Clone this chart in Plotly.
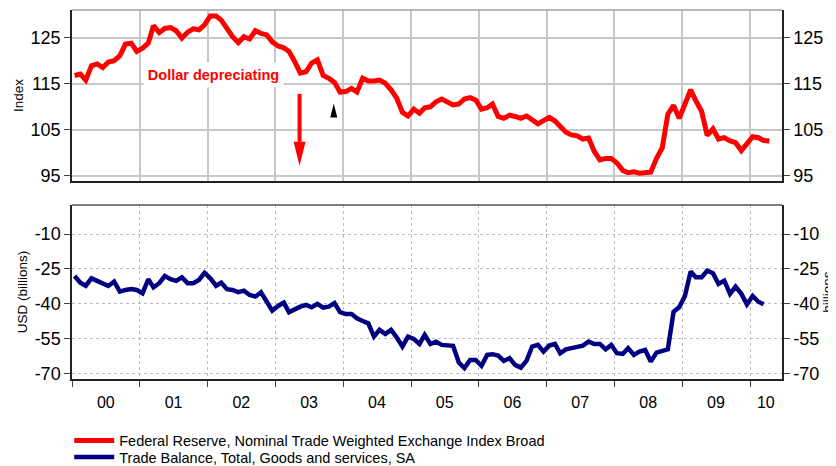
import pandas as pd
import plotly.graph_objects as go

# ---------------- data ----------------
year_labels = ["00", "01", "02", "03", "04", "05", "06", "07", "08", "09", "10"]

index_name = "Federal Reserve, Nominal Trade Weighted Exchange Index Broad"
index_values = [
    116.8, 117.1, 115.8, 118.9, 119.3, 118.5, 119.7, 120.0, 121.1, 123.6, 123.8, 122.0,  # 2000
    122.7, 123.8, 127.6, 126.1, 127.0, 127.2, 126.5, 124.9, 126.2, 126.9, 126.7, 127.8,  # 2001
    129.7, 129.7, 128.8, 127.0, 125.2, 123.9, 125.2, 124.7, 126.5, 125.9, 125.6, 124.1,  # 2002
    123.2, 122.8, 122.0, 119.8, 117.3, 117.6, 119.5, 120.2, 116.8, 116.2, 115.3, 113.2,  # 2003
    113.3, 114.0, 113.2, 116.2, 115.6, 115.6, 115.8, 115.1, 113.7, 111.9, 108.8, 108.0,  # 2004
    109.5, 108.6, 109.8, 110.0, 111.1, 111.7, 111.1, 110.4, 110.6, 111.7, 112.0, 111.5,  # 2005
    109.5, 109.8, 110.6, 107.9, 107.5, 108.2, 107.9, 107.5, 108.0, 107.1, 106.3, 107.0,  # 2006
    107.7, 106.9, 105.9, 104.5, 103.9, 103.7, 103.0, 103.2, 100.3, 98.5, 98.8, 98.8,     # 2007
    97.8, 96.2, 95.7, 95.9, 95.6, 95.7, 95.8, 98.8, 101.1, 108.4, 110.3, 107.5,          # 2008
    110.6, 113.7, 111.3, 109.0, 103.8, 105.2, 103.0, 103.3, 102.6, 102.2, 100.5, 102.2,  # 2009
    103.5, 103.3, 102.7, 102.6,                                                          # 2010
]

trade_name = "Trade Balance, Total, Goods and services, SA"
trade_values = [
    -28.1, -31.0, -32.3, -29.1, -30.2, -31.2, -32.4, -30.5, -34.8, -34.1, -33.7, -34.1,  # 2000
    -35.5, -29.5, -33.0, -31.2, -28.1, -29.5, -30.2, -28.7, -31.2, -31.2, -29.8, -26.7,  # 2001
    -29.1, -32.3, -31.0, -33.8, -34.1, -35.1, -34.4, -36.3, -37.0, -35.1, -39.2, -43.0,  # 2002
    -41.0, -39.6, -43.7, -42.3, -41.3, -40.6, -41.6, -40.1, -41.7, -41.3, -39.8, -43.7,  # 2003
    -44.5, -44.5, -46.3, -47.5, -48.5, -54.2, -51.3, -53.1, -51.3, -54.5, -58.5, -54.2,  # 2004
    -55.2, -57.4, -53.5, -57.4, -56.4, -57.8, -57.8, -58.2, -65.4, -67.8, -64.3, -64.3,  # 2005
    -66.8, -62.1, -61.8, -62.4, -64.7, -63.5, -66.4, -67.6, -64.6, -58.5, -57.8, -60.7,  # 2006
    -58.1, -57.4, -61.4, -59.7, -59.2, -58.8, -58.1, -56.4, -57.4, -57.4, -59.7, -57.8,  # 2007
    -61.4, -61.7, -59.2, -62.1, -60.7, -60.0, -65.0, -61.1, -60.3, -59.7, -43.5, -41.6,  # 2008
    -36.7, -26.2, -28.6, -28.6, -25.8, -26.9, -31.5, -30.1, -35.8, -32.7, -35.8, -40.3,  # 2009
    -36.7, -39.2, -40.3,                                                                 # 2010
]

index_ticks = [95, 105, 115, 125]
index_tick_labels = ["95", "105", "115", "125"]
trade_ticks = [-70, -55, -40, -25, -10]
trade_tick_labels = ["-70", "-55", "-40", "-25", "-10"]

# monthly observations plotted mid-month
index_dates = pd.date_range("2000-01-01", periods=len(index_values), freq="MS") + pd.Timedelta(days=14)
trade_dates = pd.date_range("2000-01-01", periods=len(trade_values), freq="MS") + pd.Timedelta(days=14)

year_starts = [f"{2000 + i}-01-01" for i in range(11)]
label_positions = [f"{2000 + i}-07-01" for i in range(10)] + ["2010-03-27"]

# ---------------- style ----------------
# the page body has an 8px default margin, so the figure is sized/offset for it
FONT = "Liberation Sans, Arial, sans-serif"
X_RANGE = ["2000-01-01", "2010-06-22"]
TOP_RANGE = [93.9, 131.0]
BOT_RANGE = [-72.5, 2.5]
TOP_DOMAIN = [0.5366, 1.0]
BOT_DOMAIN = [0.0, 0.4715]
AXIS_COLOR = "#222222"
TICK_COLOR = "#444444"

fig = go.Figure()
fig.add_trace(go.Scatter(
    x=index_dates, y=index_values, mode="lines", name=index_name,
    line=dict(color="#ff0000", width=5), xaxis="x", yaxis="y",
    legend="legend", showlegend=True,
))
fig.add_trace(go.Scatter(
    x=trade_dates, y=trade_values, mode="lines", name=trade_name,
    line=dict(color="#000080", width=4.5), xaxis="x2", yaxis="y2",
    legend="legend2", showlegend=True,
))
# invisible copies so the right-hand axes are drawn
fig.add_trace(go.Scatter(
    x=index_dates, y=index_values, mode="lines", line=dict(width=0), opacity=0,
    xaxis="x", yaxis="y3", showlegend=False, hoverinfo="skip",
))
fig.add_trace(go.Scatter(
    x=trade_dates, y=trade_values, mode="lines", line=dict(width=0), opacity=0,
    xaxis="x2", yaxis="y4", showlegend=False, hoverinfo="skip",
))

common_y = dict(
    ticks="outside", ticklen=6, tickcolor=TICK_COLOR, tickwidth=1,
    showline=True, linecolor=AXIS_COLOR, linewidth=1.5, zeroline=False,
    tickfont=dict(size=18, color="black", family=FONT),
)

legend_common = dict(
    xanchor="left", yanchor="middle", itemwidth=40, visible=True,
    font=dict(size=14.5, color="black", family=FONT), bgcolor="rgba(0,0,0,0)",
)

fig.update_layout(
    width=828, height=490,
    margin=dict(l=64, r=54, t=2, b=119),
    paper_bgcolor="white", plot_bgcolor="white",
    font=dict(family=FONT, color="black"),
    hovermode=False,
    showlegend=True,
    xaxis=dict(
        domain=[0, 1], anchor="y", type="date", range=X_RANGE,
        showticklabels=False, ticks="", showgrid=False, zeroline=False,
        showline=True, linecolor=AXIS_COLOR, linewidth=1.5,
        minor=dict(tickvals=year_starts, ticks="", showgrid=True,
                   gridcolor="#c8c8c8", gridwidth=1.5),
    ),
    yaxis=dict(
        domain=TOP_DOMAIN, anchor="x", range=TOP_RANGE,
        tickvals=index_ticks, ticktext=index_tick_labels,
        showgrid=True, gridcolor="#c8c8c8", gridwidth=1.5,
        title=dict(text="Index", font=dict(size=13.5), standoff=4),
        **common_y,
    ),
    yaxis3=dict(
        overlaying="y", anchor="x", side="right", range=TOP_RANGE,
        tickvals=index_ticks, ticktext=index_tick_labels, showgrid=False, **common_y,
    ),
    xaxis2=dict(
        domain=[0, 1], anchor="y2", type="date", range=X_RANGE,
        tickvals=label_positions, ticktext=year_labels, ticks="",
        showgrid=False, zeroline=False,
        showline=True, linecolor=AXIS_COLOR, linewidth=1.5,
        tickfont=dict(size=16, color="black", family=FONT),
        ticklabelstandoff=8,
        minor=dict(tickvals=year_starts, ticks="outside", ticklen=6,
                   tickcolor=TICK_COLOR, showgrid=True, gridcolor="#bdbdbd",
                   gridwidth=1, griddash="3px,3px"),
    ),
    yaxis2=dict(
        domain=BOT_DOMAIN, anchor="x2", range=BOT_RANGE,
        tickvals=trade_ticks, ticktext=trade_tick_labels,
        showgrid=True, gridcolor="#bdbdbd", gridwidth=1, griddash="3px,3px",
        title=dict(text="USD (billions)", font=dict(size=13.5), standoff=4),
        **common_y,
    ),
    yaxis4=dict(
        overlaying="y2", anchor="x2", side="right", range=BOT_RANGE,
        tickvals=trade_ticks, ticktext=trade_tick_labels, showgrid=False,
        title=dict(text="billions", font=dict(size=13.5), standoff=4),
        **common_y,
    ),
    legend=dict(x=-0.0039, y=-0.1672, **legend_common),
    legend2=dict(x=-0.0039, y=-0.2114, **legend_common),
)

# top borders of both panels
fig.add_shape(type="line", xref="x domain", yref="y domain", x0=0, x1=1, y0=1, y1=1,
              line=dict(color="#a0a0a0", width=1.5))
fig.add_shape(type="line", xref="x2 domain", yref="y2 domain", x0=0, x1=1, y0=1, y1=1,
              line=dict(color="#555555", width=1.5))

# "Dollar depreciating" label
fig.add_annotation(
    x="2002-02-02", y=116.97, xref="x", yref="y", text="<b>Dollar depreciating</b>",
    showarrow=False, font=dict(size=14.5, color="#ff0000", family=FONT),
    bgcolor="white", borderpad=4, width=131,
)

# red arrow (shaft + head)
ARROW_X = "2003-05-11"
fig.add_shape(type="line", xref="x", yref="y", x0=ARROW_X, x1=ARROW_X, y0=112.8, y1=102.4,
              line=dict(color="#ff0000", width=4))
fig.add_shape(type="path", xref="x", yref="y", xsizemode="pixel", ysizemode="pixel",
              xanchor=ARROW_X, yanchor=97.2, path="M -6 24 L 6 24 L 0 0 Z",
              fillcolor="#ff0000", line=dict(width=0))

# small black marker
fig.add_shape(type="path", xref="x", yref="y", xsizemode="pixel", ysizemode="pixel",
              xanchor="2003-11-11", yanchor=107.7, path="M -3.5 0 L 3.5 0 L 0 14 Z",
              fillcolor="black", line=dict(width=0))

fig.write_html("out.html")
